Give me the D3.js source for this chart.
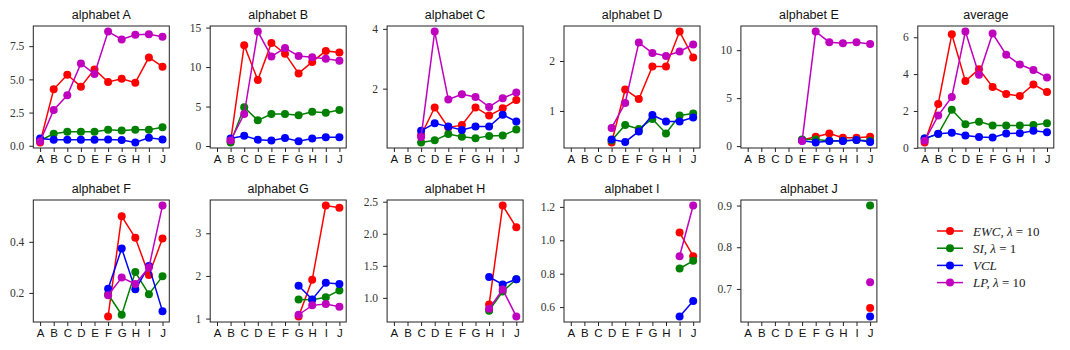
<!DOCTYPE html>
<html>
<head>
<meta charset="utf-8">
<script src="https://cdn.jsdelivr.net/npm/d3@7"></script>
<style>
  body { margin: 0; background: #fff; }
  svg { display: block; }
</style>
</head>
<body>
<script>
// categories (x axis) and panel titles
const letters = ['A', 'B', 'C', 'D', 'E', 'F', 'G', 'H', 'I', 'J'];
const titles = ['alphabet A', 'alphabet B', 'alphabet C', 'alphabet D', 'alphabet E', 'average',
                'alphabet F', 'alphabet G', 'alphabet H', 'alphabet I', 'alphabet J'];

// series values, one row per panel, null = not trained yet
const ewc = [
  [0.25, 4.25, 5.35, 4.45, 5.75, 4.8, 5.05, 4.75, 6.65, 5.95],
  [null, 0.6, 12.77, 8.35, 13.06, 11.7, 9.2, 10.65, 12.05, 11.85],
  [null, null, 0.44, 1.37, 0.70, 0.78, 1.37, 1.1, 1.34, 1.62],
  [null, null, null, 0.37, 1.43, 1.24, 1.89, 1.89, 2.59, 2.07],
  [null, null, null, null, 0.63, 0.97, 1.32, 0.87, 0.87, 0.97],
  [0.29, 2.38, 6.16, 3.62, 4.27, 3.3, 2.92, 2.81, 3.44, 3.03],
  [null, null, null, null, null, 0.108, 0.5, 0.416, 0.27, 0.413],
  [null, null, null, null, null, null, 1.05, 1.91, 3.65, 3.6],
  [null, null, null, null, null, null, null, 0.895, 2.44, 2.1],
  [null, null, null, null, null, null, null, null, 1.046, 0.905],
  [null, null, null, null, null, null, null, null, null, 0.654]
];
const si = [
  [0.4, 0.9, 1.05, 1.05, 1.05, 1.2, 1.15, 1.2, 1.2, 1.4],
  [null, 0.45, 4.9, 3.25, 4.05, 4.05, 3.9, 4.35, 4.2, 4.55],
  [null, null, 0.2, 0.27, 0.48, 0.39, 0.34, 0.42, 0.43, 0.63],
  [null, null, null, 0.41, 0.72, 0.64, 0.84, 0.55, 0.91, 0.95],
  [null, null, null, null, 0.69, 0.69, 0.56, 0.56, 0.63, 0.56],
  [0.5, 0.75, 2.07, 1.28, 1.42, 1.21, 1.21, 1.21, 1.24, 1.33],
  [null, null, null, null, null, 0.195, 0.115, 0.282, 0.195, 0.265],
  [null, null, null, null, null, null, 1.45, 1.44, 1.5, 1.66],
  [null, null, null, null, null, null, null, 0.8, 1.1, 1.29],
  [null, null, null, null, null, null, null, null, 0.831, 0.877],
  [null, null, null, null, null, null, null, null, null, 0.9]
];
const vcl = [
  [0.55, 0.45, 0.45, 0.45, 0.45, 0.48, 0.43, 0.25, 0.6, 0.48],
  [null, 0.95, 1.3, 0.8, 0.7, 1.0, 0.6, 0.95, 1.1, 1.1],
  [null, null, 0.59, 0.84, 0.73, 0.62, 0.73, 0.73, 1.13, 0.9],
  [null, null, null, 0.43, 0.38, 0.59, 0.92, 0.79, 0.79, 0.87],
  [null, null, null, null, 0.56, 0.38, 0.52, 0.52, 0.63, 0.42],
  [0.5, 0.76, 0.81, 0.67, 0.59, 0.56, 0.77, 0.79, 0.92, 0.85],
  [null, null, null, null, null, 0.216, 0.374, 0.214, 0.305, 0.128],
  [null, null, null, null, null, null, 1.77, 1.45, 1.84, 1.81],
  [null, null, null, null, null, null, null, 1.325, 1.21, 1.29],
  [null, null, null, null, null, null, null, null, 0.544, 0.636],
  [null, null, null, null, null, null, null, null, null, 0.634]
];
const lp = [
  [0.33, 2.7, 3.8, 6.2, 5.4, 8.6, 8.0, 8.35, 8.4, 8.2],
  [null, 0.7, 4.05, 14.5, 11.35, 12.4, 11.4, 11.25, 11.05, 10.8],
  [null, null, 0.38, 3.91, 1.64, 1.81, 1.72, 1.39, 1.68, 1.87],
  [null, null, null, 0.66, 1.16, 2.37, 2.16, 2.1, 2.19, 2.33],
  [null, null, null, null, 0.52, 11.94, 10.83, 10.73, 10.83, 10.63],
  [0.38, 1.75, 2.76, 6.31, 3.96, 6.2, 5.05, 4.52, 4.22, 3.82],
  [null, null, null, null, null, 0.191, 0.26, 0.235, 0.3, 0.542],
  [null, null, null, null, null, null, 1.09, 1.31, 1.34, 1.28],
  [null, null, null, null, null, null, null, 0.83, 1.13, 0.71],
  [null, null, null, null, null, null, null, null, 0.905, 1.208],
  [null, null, null, null, null, null, null, null, null, 0.716]
];

// y tick labels per panel
const yTicks = [
  ['0.0', '2.5', '5.0', '7.5'],
  ['0', '5', '10', '15'],
  ['2', '4'],
  ['1', '2'],
  ['0', '5', '10'],
  ['0', '2', '4', '6'],
  ['0.2', '0.4'],
  ['1', '2', '3'],
  ['1.0', '1.5', '2.0', '2.5'],
  ['0.6', '0.8', '1.0', '1.2'],
  ['0.7', '0.8', '0.9']
];

const series = [
  {key: 'ewc', values: ewc, color: '#ff0000', label: ['EWC, λ', ' = 10']},
  {key: 'si', values: si, color: '#008000', label: ['SI, λ', ' = 1']},
  {key: 'vcl', values: vcl, color: '#0000ff', label: ['VCL', '']},
  {key: 'lp', values: lp, color: '#bf00bf', label: ['LP, λ', ' = 10']}
];

// layout
var width = 1070,
    height = 350;
const panelW = 136, panelH = 122;
const colStep = 176.9;
const left0 = 33.3;
const rowTop = [26, 200];

const svg = d3.select('body').append('svg')
    .attr('width', width)
    .attr('height', height);

titles.forEach(function(title, p) {
  const row = p < 6 ? 0 : 1;
  const col = p < 6 ? p : p - 6;
  const x0 = left0 + col * colStep;
  const y0 = rowTop[row];

  const g = svg.append('g').attr('transform', 'translate(' + x0 + ',' + y0 + ')');

  // all values in this panel, for matplotlib-style 5% margins
  const vals = [];
  series.forEach(s => s.values[p].forEach(v => { if (v != null) vals.push(v); }));
  const lo = d3.min(vals), hi = d3.max(vals);
  const pad = (hi - lo) * 0.05;

  const x = d3.scalePoint()
      .domain(letters)
      .range([0, panelW])
      .padding(0.5);
  const y = d3.scaleLinear()
      .domain([lo - pad, hi + pad])
      .range([panelH, 0]);

  // clip
  g.append('clipPath').attr('id', 'clip' + p)
    .append('rect').attr('width', panelW).attr('height', panelH);

  // axes
  const xAxis = d3.axisBottom(x).tickSize(4).tickPadding(3);
  const gx = g.append('g')
      .attr('transform', 'translate(0,' + panelH + ')')
      .call(xAxis);
  gx.select('.domain').remove();
  gx.selectAll('line').attr('stroke', '#222');
  gx.selectAll('text')
      .attr('font-family', '"Liberation Sans", Arial, sans-serif')
      .attr('font-size', 11.5)
      .attr('fill', '#111');

  const yAxis = d3.axisLeft(y)
      .tickValues(yTicks[p].map(Number))
      .tickFormat((d, i) => yTicks[p][i])
      .tickSize(4)
      .tickPadding(5);
  const gy = g.append('g').call(yAxis);
  gy.select('.domain').remove();
  gy.selectAll('line').attr('stroke', '#222');
  gy.selectAll('text')
      .attr('font-family', '"Liberation Serif", "DejaVu Serif", serif')
      .attr('font-size', 11.5)
      .attr('fill', '#333');

  // lines and markers
  const plot = g.append('g').attr('clip-path', 'url(#clip' + p + ')');
  const line = d3.line()
      .defined(d => d.v != null)
      .x(d => x(d.k))
      .y(d => y(d.v));

  series.forEach(function(s) {
    const pts = s.values[p].map((v, i) => ({k: letters[i], v: v}));
    plot.append('path')
        .datum(pts)
        .attr('d', line)
        .attr('fill', 'none')
        .attr('stroke', s.color)
        .attr('stroke-width', 1.5);
    plot.selectAll('circle.' + s.key)
        .data(pts.filter(d => d.v != null))
        .enter()
        .append('circle')
        .attr('class', s.key)
        .attr('cx', d => x(d.k))
        .attr('cy', d => y(d.v))
        .attr('r', 4)
        .attr('fill', s.color);
  });

  // frame
  g.append('rect')
      .attr('width', panelW)
      .attr('height', panelH)
      .attr('fill', 'none')
      .attr('stroke', '#222')
      .attr('stroke-width', 1);

  // title
  g.append('text')
      .attr('x', panelW / 2)
      .attr('y', -7)
      .attr('text-anchor', 'middle')
      .attr('font-family', '"Liberation Sans", Arial, sans-serif')
      .attr('font-size', 12.5)
      .attr('fill', '#111')
      .text(title);
});

// legend
const legend = svg.append('g').attr('transform', 'translate(937,231)');
series.forEach(function(s, i) {
  const row = legend.append('g').attr('transform', 'translate(0,' + (i * 17.2) + ')');
  row.append('line')
      .attr('x1', 0).attr('x2', 26)
      .attr('stroke', s.color)
      .attr('stroke-width', 1.5);
  row.append('circle')
      .attr('cx', 13)
      .attr('r', 4)
      .attr('fill', s.color);
  const t = row.append('text')
      .attr('x', 36)
      .attr('y', 4.5)
      .attr('font-family', '"Liberation Serif", "DejaVu Serif", serif')
      .attr('font-size', 13)
      .attr('fill', '#222')
      .style('white-space', 'pre');
  t.append('tspan').attr('font-style', 'italic').text(s.label[0]);
  t.append('tspan').text(s.label[1]);
});
</script>
</body>
</html>
